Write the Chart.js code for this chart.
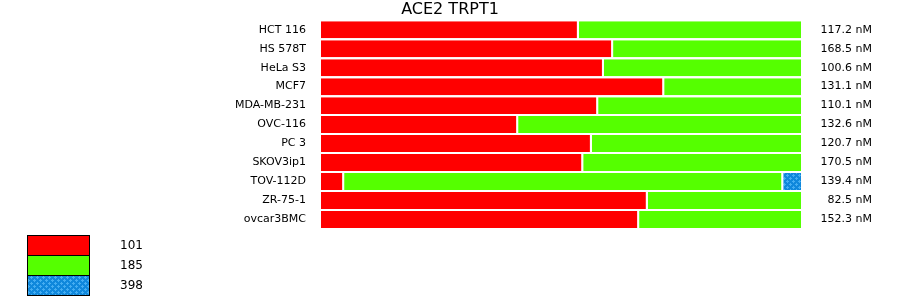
<!DOCTYPE html>
<html>
<head>
<meta charset="utf-8">
<script src="https://cdn.jsdelivr.net/npm/chart.js@4/dist/chart.umd.min.js"></script>
<style>
  html, body { margin: 0; padding: 0; background: #fff; }
  #wrap { width: 900px; height: 299px; position: relative; }
</style>
</head>
<body>
<div id="wrap"><canvas id="c" width="900" height="299"></canvas></div>
<script>
// ---- data ----
const categories = ['HCT 116','HS 578T','HeLa S3','MCF7','MDA-MB-231','OVC-116','PC 3','SKOV3ip1','TOV-112D','ZR-75-1','ovcar3BMC'];
const concentrations = ['117.2 nM','168.5 nM','100.6 nM','131.1 nM','110.1 nM','132.6 nM','120.7 nM','170.5 nM','139.4 nM','82.5 nM','152.3 nM'];
const series101 = [53.5, 60.6, 58.7, 71.2, 57.5, 40.9, 56.2, 54.4, 4.8, 67.8, 66.0];
const series185 = [46.5, 39.4, 41.3, 28.8, 42.5, 59.1, 43.8, 45.6, 91.1, 32.2, 34.0];
const series398 = [0, 0, 0, 0, 0, 0, 0, 0, 4.1, 0, 0];
const legendLabels = ['101', '185', '398'];
const chartTitle = 'ACE2 TRPT1';

// ---- styles ----
const RED = '#ff0000', GREEN = '#55ff00';
function makePattern() {
  const p = document.createElement('canvas');
  p.width = 6; p.height = 6;
  const g = p.getContext('2d');
  g.fillStyle = '#0f88dc'; g.fillRect(0, 0, 6, 6);
  g.fillStyle = '#45aef2';
  const plus = (cx, cy) => {
    g.fillRect(cx - 1, cy, 3, 1);
    g.fillRect(cx, cy - 1, 1, 3);
  };
  plus(1, 1); plus(4, 4);
  return document.getElementById('c').getContext('2d').createPattern(p, 'repeat');
}
const BLUE = makePattern();
const legendColors = [RED, GREEN, BLUE];

Chart.defaults.font.family = '"DejaVu Sans", Verdana, sans-serif';
Chart.defaults.color = '#000';

const legendPlugin = {
  id: 'boxLegend',
  afterDraw(chart) {
    const ctx = chart.ctx;
    ctx.save();
    legendLabels.forEach((lab, i) => {
      const y = 235 + i * 20;
      ctx.fillStyle = legendColors[i];
      ctx.fillRect(27, y, 62, 20);
      ctx.strokeStyle = '#000';
      ctx.lineWidth = 1;
      ctx.strokeRect(27.5, y + 0.5, 62, 20);
      ctx.fillStyle = '#000';
      ctx.font = '12px "DejaVu Sans", Verdana, sans-serif';
      ctx.textBaseline = 'middle';
      ctx.textAlign = 'left';
      ctx.fillText(lab, 120, y + 10.5);
    });
    ctx.restore();
  }
};

const common = {
  barPercentage: 17 / 19,
  categoryPercentage: 1.0,
  borderColor: '#ffffff',
  borderWidth: { left: 0, right: 2, top: 0, bottom: 0 },
  borderSkipped: false
};

function noVPad(s) { s.paddingTop = 0; s.paddingBottom = 0; }

new Chart(document.getElementById('c'), {
  type: 'bar',
  data: {
    labels: categories,
    datasets: [
      Object.assign({ label: legendLabels[0], data: series101, backgroundColor: RED }, common),
      Object.assign({ label: legendLabels[1], data: series185, backgroundColor: GREEN }, common),
      Object.assign({ label: legendLabels[2], data: series398, backgroundColor: BLUE }, common)
    ]
  },
  options: {
    indexAxis: 'y',
    responsive: false,
    animation: false,
    events: [],
    layout: { padding: { left: 28, right: 28, top: 0, bottom: 70 } },
    plugins: {
      legend: { display: false },
      tooltip: { enabled: false },
      title: {
        display: true,
        text: chartTitle,
        font: { size: 16, weight: 'normal' },
        color: '#000',
        padding: { top: 0, bottom: 1 }
      }
    },
    scales: {
      x: { stacked: true, min: 0, max: 100, display: false },
      y: {
        stacked: true,
        position: 'left',
        grid: { display: false, drawTicks: false },
        border: { display: false },
        ticks: { padding: 15, font: { size: 11 }, color: '#000' },
        afterFit(s) { s.width = 293; noVPad(s); }
      },
      y2: {
        type: 'category',
        labels: concentrations,
        position: 'right',
        offset: true,
        grid: { display: false, drawTicks: false },
        border: { display: false },
        ticks: { padding: 18, font: { size: 11 }, color: '#000', crossAlign: 'far' },
        afterFit(s) { s.width = 69; noVPad(s); }
      }
    }
  },
  plugins: [legendPlugin]
});
</script>
</body>
</html>
